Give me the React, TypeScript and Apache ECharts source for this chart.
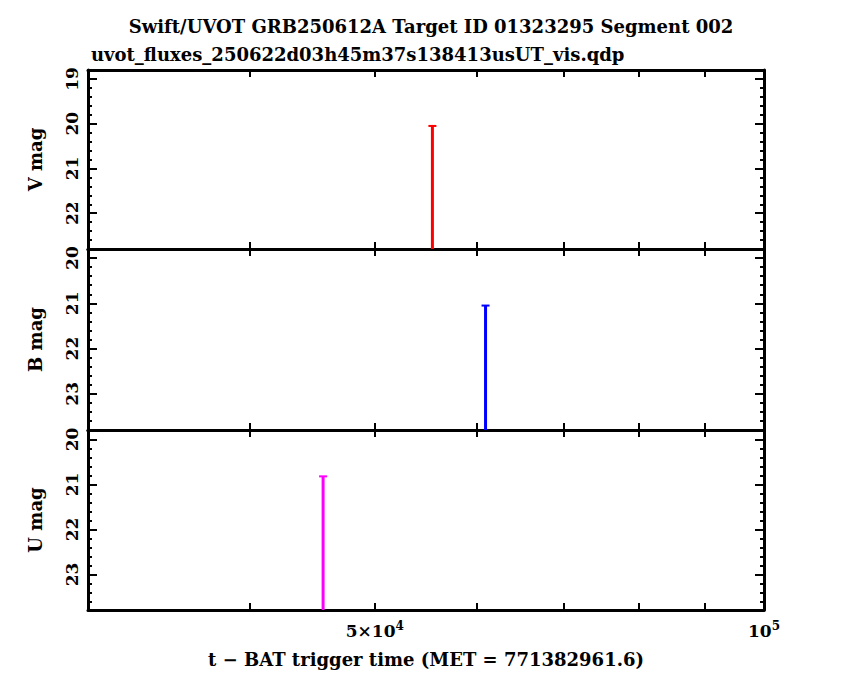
import { useEffect, useRef } from "react";
import * as echarts from "echarts";

const TITLE = "Swift/UVOT GRB250612A Target ID 01323295 Segment 002";
const SUBTITLE = "uvot_fluxes_250622d03h45m37s138413usUT_vis.qdp";
const X_TITLE = "t \u2212 BAT trigger time (MET = 771382961.6)";

const X_MIN = 3e4;
const X_MAX = 1e5;
const X_TICKS = [4e4, 5e4, 6e4, 7e4, 8e4, 9e4, 1e5];
const X_LABELS = [5e4, 1e5];

const PANELS = ["V mag", "B mag", "U mag"];
const PANEL_COLORS = ["#ff0000", "#0000ff", "#ff00ff"];
const Y_RANGES: [number, number][] = [[18.8, 22.8], [19.8, 23.8], [19.79, 23.79]];
const Y_MAJOR: number[][] = [[19, 20, 21, 22], [20, 21, 22, 23], [20, 21, 22, 23]];

// [time, bright end of bar, faint end of bar]
const V_POINTS: [number, number, number][] = [[5.54e4, 20.05, 24]];
const B_POINTS: [number, number, number][] = [[6.09e4, 21.05, 24]];
const U_POINTS: [number, number, number][] = [[4.56e4, 20.82, 24]];
const POINTS = [V_POINTS, B_POINTS, U_POINTS];

const FONT = "DejaVu Serif";
const GRID_TOPS = [70, 249, 430];
const GRID_HEIGHTS = [179, 181, 180];
const lg = (v: number) => Math.log10(v);

function minorTicks(range: [number, number]) {
  const out: number[] = [];
  for (let v = Math.ceil(range[0] * 5); v <= Math.floor(range[1] * 5); v++) out.push(v / 5);
  return out;
}

function buildOption() {
  const grid = PANELS.map((_, i) => ({ left: 88, width: 676, top: GRID_TOPS[i], height: GRID_HEIGHTS[i] }));
  const xAxis: any[] = [];
  const yAxis: any[] = [];
  const series: any[] = [];
  PANELS.forEach((name, i) => {
    const last = i === PANELS.length - 1;
    for (const pos of ["bottom", "top"]) {
      xAxis.push({
        type: "value", gridIndex: i, min: lg(X_MIN), max: lg(X_MAX), position: pos,
        axisLine: { show: true, onZero: false, lineStyle: { color: "#000", width: 3 } },
        axisTick: { show: true, inside: true, length: 7, customValues: X_TICKS.map(lg), lineStyle: { color: "#000", width: 2 } },
        axisLabel: {
          show: last && pos === "bottom", customValues: X_LABELS.map(lg), margin: 10,
          formatter: (v: number) => (Math.abs(v - 5) < 1e-6 ? "10{s|5}" : "5\u00d710{s|4}"),
          color: "#000", fontFamily: FONT, fontWeight: "bold", fontSize: 17,
          rich: { s: { fontSize: 12, verticalAlign: "top", fontFamily: FONT, fontWeight: "bold", padding: [0, 0, 10, 0] } }
        },
        splitLine: { show: false },
        name: last && pos === "bottom" ? X_TITLE : "", nameLocation: "middle", nameGap: 40,
        nameTextStyle: { color: "#000", fontFamily: FONT, fontWeight: "bold", fontSize: 18 }
      });
    }
    const r = Y_RANGES[i];
    for (const pos of ["left", "right"]) {
      for (const major of [true, false]) {
        yAxis.push({
          type: "value", gridIndex: i, min: r[0], max: r[1], inverse: true, position: pos,
          axisLine: { show: major, lineStyle: { color: "#000", width: 3 } },
          axisTick: {
            show: true, inside: true, length: major ? 9 : 4,
            customValues: major ? Y_MAJOR[i] : minorTicks(r), lineStyle: { color: "#000", width: 2 }
          },
          axisLabel: {
            show: major && pos === "left", customValues: Y_MAJOR[i], rotate: 90, margin: 8,
            color: "#000", fontFamily: FONT, fontWeight: "bold", fontSize: 17
          },
          splitLine: { show: false },
          name: major && pos === "left" ? name : "", nameLocation: "middle", nameRotate: 90, nameGap: 44,
          nameTextStyle: { color: "#000", fontFamily: FONT, fontWeight: "bold", fontSize: 18 }
        });
      }
    }
    const color = PANEL_COLORS[i];
    series.push({
      type: "custom", xAxisIndex: i * 2, yAxisIndex: i * 4, clip: true,
      data: POINTS[i].map(([t, a, b]) => [lg(t), a, b]),
      renderItem: (_p: any, api: any) => {
        const top = api.coord([api.value(0), api.value(1)]);
        const bot = api.coord([api.value(0), api.value(2)]);
        return {
          type: "group",
          children: [
            { type: "line", shape: { x1: top[0], y1: top[1], x2: bot[0], y2: bot[1] }, style: { stroke: color, lineWidth: 3 } },
            { type: "line", shape: { x1: top[0] - 4, y1: top[1], x2: top[0] + 4, y2: top[1] }, style: { stroke: color, lineWidth: 2 } }
          ]
        };
      }
    });
  });
  return {
    animation: false,
    backgroundColor: "#fff",
    title: [
      { text: TITLE, left: 426, textAlign: "center", top: 12 },
      { text: SUBTITLE, left: 86, top: 40 }
    ].map((t) => ({ ...t, textStyle: { color: "#000", fontFamily: FONT, fontWeight: "bold", fontSize: 18 } })),
    grid, xAxis, yAxis, series
  };
}

export default function App() {
  const ref = useRef<HTMLDivElement>(null);
  useEffect(() => {
    document.body.style.margin = "0";
    const chart = echarts.init(ref.current!, undefined, { renderer: "svg" });
    chart.setOption(buildOption());
    return () => chart.dispose();
  }, []);
  return <div ref={ref} style={{ width: 850, height: 680 }} />;
}
